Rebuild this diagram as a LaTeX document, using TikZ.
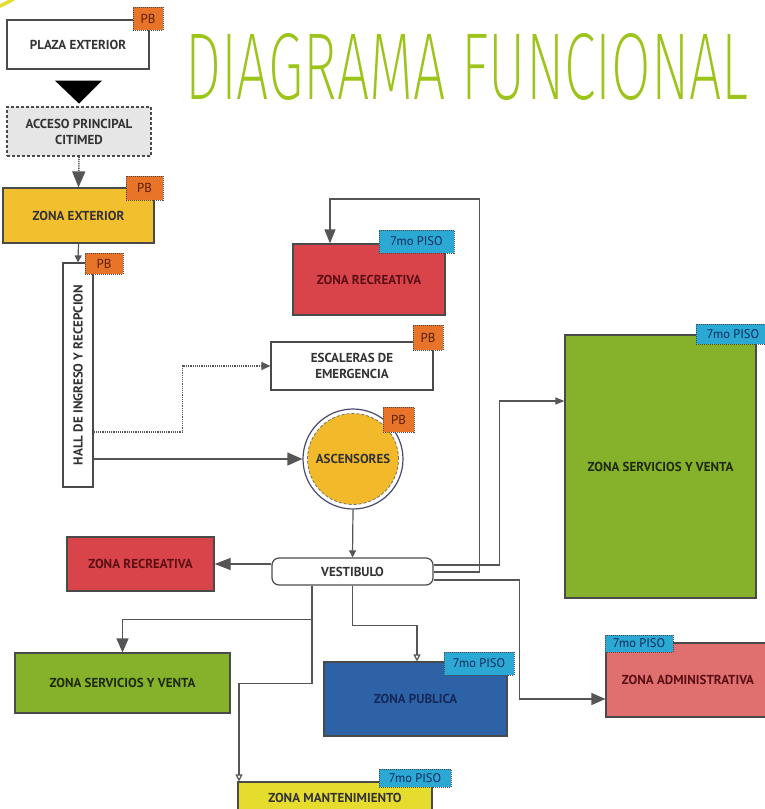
\documentclass[tikz,border=0pt]{standalone}
\usepackage{graphicx}
\usepackage{fontspec}
\setmainfont{PT Sans}
\newfontfamily\titlefont{Fira Sans}[UprightFont=* ExtraLight]
\usetikzlibrary{arrows.meta}
\definecolor{tgreen}{HTML}{9DC41A}
\definecolor{borderc}{HTML}{4A4A4A}
\definecolor{linec}{HTML}{555555}
\definecolor{tagor}{HTML}{E8742A}
\definecolor{tagcy}{HTML}{2BA8D4}
\definecolor{zred}{HTML}{D9444A}
\definecolor{zgreen}{HTML}{86B12A}
\definecolor{zyel}{HTML}{F2BF2E}
\definecolor{ayel}{HTML}{F2BA2A}
\definecolor{zblue}{HTML}{2E62A6}
\definecolor{zpink}{HTML}{E07070}
\definecolor{zlemon}{HTML}{E6DC2E}
\definecolor{zgray}{HTML}{E6E6E6}
\definecolor{txtc}{HTML}{333333}
\definecolor{txtred}{HTML}{5A0F14}
\definecolor{txtblue}{HTML}{14285A}
\definecolor{txtgreen}{HTML}{1E2A0A}
\definecolor{txtpb}{HTML}{5A1E00}
\definecolor{txtpiso}{HTML}{0F2A5A}
\definecolor{ringc}{HTML}{4A4A70}
\begin{document}
\begin{tikzpicture}[x=1pt,y=-1pt,
  zone/.style={draw=borderc, line width=1.2pt, rectangle, inner sep=2pt, align=center,
    text=txtc, font=\bfseries\fontsize{13}{16}\selectfont},
  tagpb/.style={draw=black!70, densely dotted, line width=1pt, fill=tagor, inner sep=0pt,
    text=txtpb, font=\fontsize{13}{14}\selectfont},
  tagpiso/.style={draw=black!70, densely dotted, line width=1pt, fill=tagcy, inner sep=0pt,
    text=txtpiso, font=\fontsize{12.5}{14}\selectfont},
  conn/.style={draw=linec, line width=1.2pt},
  smalltip/.style={-{Triangle[length=7pt,width=7pt]}},
  opentip/.style={-{Triangle[open,length=7pt,width=7pt]}}
]
\useasboundingbox (0,0) rectangle (764,809);
\fill[white] (0,0) rectangle (764,809);

% corner decoration
\draw[line width=3.5pt, color=zlemon] (-2,7) .. controls (4,4) and (9,2) .. (15,-2);

% title
\node[anchor=north west, inner sep=0pt, text=tgreen] (title) at (185,33)
  {\resizebox{563pt}{66pt}{\titlefont DIAGRAMA FUNCIONAL}};

% boxes
\node[zone, fill=white, minimum width=142pt, minimum height=49pt] (plaza) at (78,44.5) {PLAZA EXTERIOR};
\node[zone, fill=zgray, densely dashed, minimum width=144pt, minimum height=49pt] (acc) at (79,131.5) {ACCESO PRINCIPAL\\CITIMED};
\node[zone, fill=zyel, minimum width=151pt, minimum height=55pt] (zext) at (78.5,215.5) {ZONA EXTERIOR};
\node[zone, fill=white, minimum width=30pt, minimum height=224pt] (hall) at (78,375) {\rotatebox{90}{HALL DE INGRESO Y RECEPCION}};
\node[zone, fill=white, minimum width=162pt, minimum height=48pt] (esc) at (352,366) {ESCALERAS DE\\EMERGENCIA};
\node[zone, fill=zred, text=txtred, minimum width=152pt, minimum height=71pt] (zr1) at (369,279.5) {ZONA RECREATIVA};
\node[circle, draw=ringc, line width=1.2pt, fill=white, minimum size=100pt, inner sep=0pt] (asc) at (353,459) {};
\node[circle, draw=black!55, densely dashed, line width=0.8pt, fill=ayel, minimum size=91pt, inner sep=0pt,
  text=txtc, font=\bfseries\fontsize{13}{16}\selectfont] (ascin) at (asc.center) {ASCENSORES};
\node[zone, fill=white, rounded corners=7pt, minimum width=161pt, minimum height=27pt] (vest) at (352.5,571.5) {VESTIBULO};
\node[zone, fill=zred, text=txtred, minimum width=147pt, minimum height=54pt] (zr2) at (140.5,564) {ZONA RECREATIVA};
\node[zone, fill=zgreen, text=txtgreen, minimum width=215pt, minimum height=60pt] (zsv1) at (122.5,683) {ZONA SERVICIOS Y VENTA};
\node[zone, fill=zblue, text=txtblue, minimum width=183pt, minimum height=74pt] (zp) at (415.5,699) {ZONA PUBLICA};
\node[zone, fill=zlemon, minimum width=194pt, minimum height=32pt] (zm) at (335,798) {ZONA MANTENIMIENTO};
\node[zone, fill=zgreen, text=txtgreen, minimum width=191pt, minimum height=263pt] (zsv2) at (660.5,466.5) {ZONA SERVICIOS Y VENTA};
\node[zone, fill=zpink, text=txtred, minimum width=164pt, minimum height=74pt] (zadm) at (688,680) {ZONA ADMINISTRATIVA};

% tags
\node[tagpb, minimum width=30pt, minimum height=23pt] (t1) at (148,18.5) {PB};
\node[tagpb, minimum width=37pt, minimum height=24pt] (t2) at (144.5,188) {PB};
\node[tagpb, minimum width=38pt, minimum height=21pt] (t3) at (104,263.5) {PB};
\node[tagpb, minimum width=30pt, minimum height=25pt] (t4) at (428,337.5) {PB};
\node[tagpb, minimum width=31pt, minimum height=25pt] (t5) at (398.5,419.5) {PB};
\node[tagpiso, minimum width=75pt, minimum height=23pt] (t6) at (416.5,241.5) {7mo PISO};
\node[tagpiso, minimum width=74pt, minimum height=20pt] (t7) at (733,334) {7mo PISO};
\node[tagpiso, minimum width=70pt, minimum height=23pt] (t8) at (479,663.5) {7mo PISO};
\node[tagpiso, minimum width=68pt, minimum height=17pt] (t9) at (639,643.5) {7mo PISO};
\node[tagpiso, minimum width=72pt, minimum height=18pt] (t10) at (415,778) {7mo PISO};

% connectors
\fill[black] ([xshift=-23pt,yshift=-11pt]plaza.south) -- ([xshift=24pt,yshift=-11pt]plaza.south)
  -- ([xshift=1pt,yshift=-34pt]plaza.south) -- cycle;
\draw[conn, densely dotted, line width=1.6pt, -{Triangle[length=16pt,width=13pt]}] (acc.south) -- (zext.north);
\draw[conn, smalltip] (zext.south) -- (hall.north);
\draw[conn, densely dotted, -{Triangle[length=9pt,width=8pt]}] ([yshift=-57pt]hall.east) -- ++(89,0) |- (esc.west);
\draw[conn, -{Triangle[length=15pt,width=13pt]}] (hall.east |- asc.west) -- (asc.west);
\draw[conn, smalltip] (asc.south) -- (vest.north);
\draw[conn, -{Triangle[length=16pt,width=12pt]}] (vest.west |- zr2.east) -- (zr2.east);
\draw[conn, -{Triangle[length=9pt,width=7pt]}] ([yshift=6.5pt]vest.east) -- ++(66,0) |- ([yshift=65.5pt]zsv2.west);
\draw[conn, -{Triangle[length=14pt,width=11pt]}] ([yshift=-0.5pt]vest.east) -- ++(46,0) -- ++(0,-373) -| ([xshift=-39pt]zr1.north);
\draw[conn, -{Triangle[length=14pt,width=12pt]}] ([yshift=-8.5pt]vest.east) -- ++(86,0) |- ([yshift=-19pt]zadm.west);
\draw[conn, -{Triangle[length=14pt,width=12pt]}] ([xshift=-40.5pt]vest.south) -- ++(0,34) -| (zsv1.north);
\draw[conn, opentip] ([xshift=-40.5pt]vest.south) -- ++(0,98) -| ([xshift=-96pt]zm.north);
\draw[conn, opentip] (vest.south) -- ++(0,40) -| ([xshift=1.5pt]zp.north);
\end{tikzpicture}
\end{document}
